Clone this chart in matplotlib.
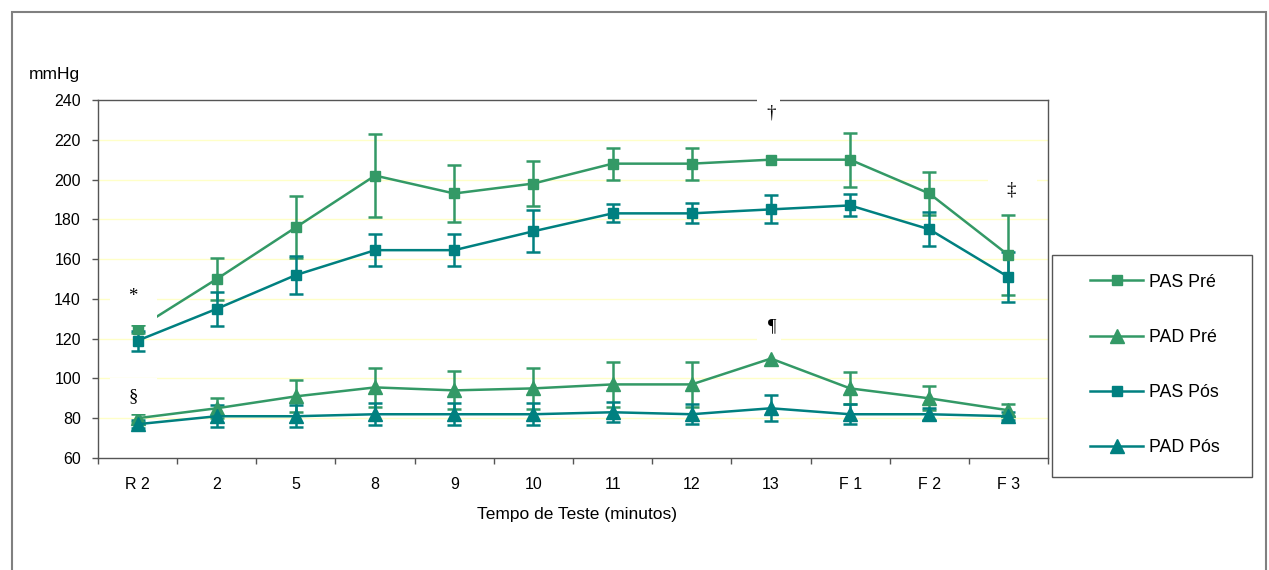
import numpy as np
import matplotlib
matplotlib.use("Agg")
import matplotlib.pyplot as plt
from matplotlib.lines import Line2D
from matplotlib.patches import Rectangle

# ---------------- data ----------------
categories = ["R 2", "2", "5", "8", "9", "10", "11", "12", "13", "F 1", "F 2", "F 3"]

pas_pre = [125, 150, 176, 202, 193, 198, 208, 208, 210, 210, 193, 162]
pas_pre_err = [2, 10.5, 15.5, 21, 14.5, 11.5, 8, 8, np.nan, 13.5, 11, 20]

pad_pre = [80, 85, 91, 95.5, 94, 95, 97, 97, 110, 95, 90, 84]
pad_pre_err = [2, 5, 8, 10, 9.5, 10.5, 11.5, 11.5, np.nan, 8, 6, 3]

pas_pos = [119, 135, 152, 164.5, 164.5, 174, 183, 183, 185, 187, 175, 151]
pas_pos_err = [5, 8.5, 9.5, 8, 8, 10.5, 4.5, 5, 7, 5.5, 8.5, 12.5]

pad_pos = [77, 81, 81, 82, 82, 82, 83, 82, 85, 82, 82, 81]
pad_pos_err = [2, 5.5, 5.5, 5.5, 5.5, 5.5, 5, 5, 6.5, 5, 3, 2]

series_names = ["PAS Pré", "PAD Pré", "PAS Pós", "PAD Pós"]
yticks = [60, 80, 100, 120, 140, 160, 180, 200, 220, 240]

GREEN = "#339966"
TEAL = "#008080"

plt.rcParams["font.family"] = ["Liberation Sans", "DejaVu Sans"]

fig = plt.figure(figsize=(12.69, 5.70), dpi=100)
W, H = 1269, 570
ax = fig.add_axes([98 / W, 1 - 458 / H, 950 / W, 358 / H])

x = np.arange(len(categories))

# gridlines
for v in yticks[1:-1]:
    ax.axhline(v, color="#ffffc8", lw=1.0, zorder=1)

LW = 1.8

def draw(vals, errs, color, marker, ms):
    ax.errorbar(x, vals, yerr=np.array(errs, dtype=float), color=color, marker=marker,
                ms=ms, lw=LW, elinewidth=LW, capsize=5, capthick=LW, zorder=3,
                mec=color, mfc=color)

draw(pas_pre, pas_pre_err, GREEN, "s", 6.8)
draw(pad_pre, pad_pre_err, GREEN, "^", 9.5)
draw(pas_pos, pas_pos_err, TEAL, "s", 6.8)
draw(pad_pos, pad_pos_err, TEAL, "^", 9.5)

ax.set_xlim(-0.5, len(categories) - 0.5)
ax.set_ylim(60, 240)
ax.set_yticks(yticks)
ax.set_xticks(x)
ax.set_xticklabels(categories)
ax.set_xticks(np.arange(-0.5, len(categories), 1.0), minor=True)
ax.tick_params(axis="x", which="major", length=0, pad=13.5, labelsize=11.5, colors="#000000")
ax.tick_params(axis="x", which="minor", length=4.3, width=1, color="#555555", direction="out")
ax.tick_params(axis="y", length=4.3, width=1, color="#555555", direction="out", pad=8, labelsize=11.5)
for s in ax.spines.values():
    s.set_color("#555555")
    s.set_linewidth(1.0)

# annotation boxes (white background text boxes)
def note(sym, tx, ty, bx0, bx1, by0, by1):
    ax.add_patch(Rectangle((bx0, by0), bx1 - bx0, by1 - by0, facecolor="white",
                           edgecolor="none", zorder=4, clip_on=False))
    ax.text(tx, ty, sym, ha="center", va="center", fontsize=13.5,
            family=["Liberation Serif", "DejaVu Serif"], zorder=5, clip_on=False)

note("*", -0.06, 141, -0.35, 0.24, 127, 144.5)
note("§", -0.05, 91, -0.35, 0.24, 82, 100.2)
note("†", 8.0, 233.5, 7.83, 8.11, 227.4, 242.5)
note("¶", 8.02, 126, 7.82, 8.13, 116.3, 131.9)
note("‡", 11.03, 194.7, 10.74, 11.36, 188.2, 204.8)

fig.text(80 / W, 1 - 74 / H, "mmHg", ha="right", va="center", fontsize=12.5)
fig.text(577 / W, 1 - 515 / H, "Tempo de Teste (minutos)", ha="center", va="center", fontsize=12.5)

# legend
handles = [
    Line2D([], [], color=GREEN, marker="s", ms=6.8, lw=LW),
    Line2D([], [], color=GREEN, marker="^", ms=9.5, lw=LW),
    Line2D([], [], color=TEAL, marker="s", ms=6.8, lw=LW),
    Line2D([], [], color=TEAL, marker="^", ms=9.5, lw=LW),
]
lx0, lx1, ly0, ly1 = 1052, 1252, 255, 477
fig.patches.append(Rectangle((lx0 / W, 1 - ly1 / H), (lx1 - lx0) / W, (ly1 - ly0) / H,
                             transform=fig.transFigure, facecolor="white",
                             edgecolor="#555555", lw=1.0, zorder=1))
leg = fig.legend(handles, series_names, loc="center",
                 bbox_to_anchor=((lx0 + 3) / W, 1 - (ly1 - 1) / H, (lx1 - lx0) / W, (ly1 - ly0) / H),
                 frameon=False, fontsize=12.8, handlelength=3.0, handletextpad=0.35,
                 labelspacing=2.15)

# outer chart frame
fig.patches.append(Rectangle((12 / W, -0.1), (1266 - 12) / W, 1.1 - 12 / H,
                             transform=fig.transFigure, facecolor="none",
                             edgecolor="#808080", lw=1.5, zorder=0))

fig.savefig("out.png", dpi=100)
